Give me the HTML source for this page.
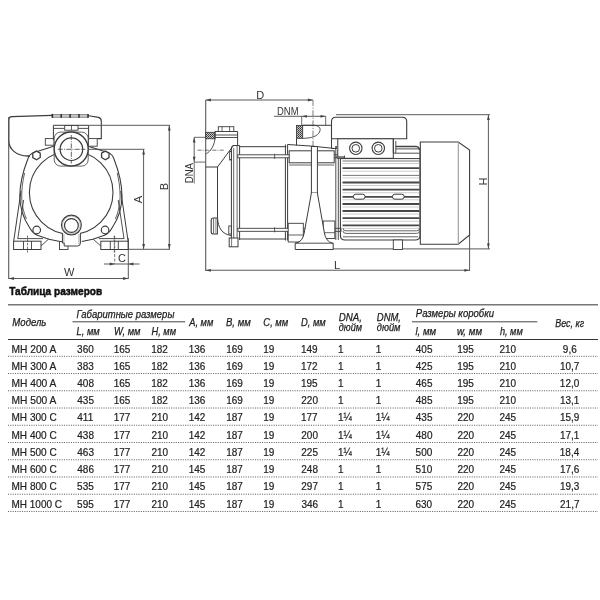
<!DOCTYPE html>
<html><head><meta charset="utf-8"><style>
html,body{margin:0;padding:0;background:#fff;}
svg{display:block;font-family:"Liberation Sans",sans-serif;filter:grayscale(1) blur(0.3px);}
</style></head><body>
<svg width="600" height="600" viewBox="0 0 600 600">
<defs><pattern id="kn" width="2" height="2" patternUnits="userSpaceOnUse"><rect width="2" height="2" fill="#c8c8c8"/><rect width="1" height="1" fill="#333"/><rect x="1" y="1" width="1" height="1" fill="#555"/></pattern></defs>
<rect width="600" height="600" fill="#fff"/>
<path d="M30,156 L28,156 C16,156 8.7,149 8.7,140 L8.7,120 Q8.7,116.8 12,116.7 L52,115.4" stroke="#3c3c3c" stroke-width="1.3" fill="none" />
<rect x="52" y="114.4" width="36.50" height="2.90" stroke="#777" stroke-width="0.7" fill="#c4c4c4" />
<line x1="52.4" y1="113.9" x2="52.4" y2="117.8" stroke="#2a2a2a" stroke-width="1.5" />
<line x1="61.2" y1="113.9" x2="61.2" y2="117.8" stroke="#2a2a2a" stroke-width="1.5" />
<line x1="70.1" y1="113.9" x2="70.1" y2="117.8" stroke="#2a2a2a" stroke-width="1.5" />
<line x1="79" y1="113.9" x2="79" y2="117.8" stroke="#2a2a2a" stroke-width="1.5" />
<line x1="88" y1="113.9" x2="88" y2="117.8" stroke="#2a2a2a" stroke-width="1.5" />
<path d="M88.7,115.7 L98.5,117.4 Q101.3,118 101.3,121.5 L101.3,138.6 L97.2,138.6" stroke="#3c3c3c" stroke-width="1.1" fill="none" />
<line x1="8.7" y1="117" x2="8.7" y2="279" stroke="#5a5a5a" stroke-width="1.1" />
<line x1="8.7" y1="278.5" x2="128.3" y2="278.5" stroke="#5a5a5a" stroke-width="1" />
<path d="M8.90,278.50 L13.90,277.10 L13.90,279.90 Z" fill="#444"/>
<path d="M128.10,278.50 L123.10,279.90 L123.10,277.10 Z" fill="#444"/>
<line x1="128.3" y1="238" x2="128.3" y2="279" stroke="#5a5a5a" stroke-width="1" />
<line x1="104" y1="264" x2="139.5" y2="264" stroke="#5a5a5a" stroke-width="1" />
<path d="M114.70,264.00 L109.70,265.40 L109.70,262.60 Z" fill="#444"/>
<path d="M128.30,264.00 L133.30,262.60 L133.30,265.40 Z" fill="#444"/>
<line x1="114.7" y1="236" x2="114.7" y2="264" stroke="#5a5a5a" stroke-width="0.8" stroke-dasharray="3,1.5"/>
<line x1="88.6" y1="125.3" x2="170" y2="125.3" stroke="#5a5a5a" stroke-width="1" />
<line x1="88.6" y1="149.3" x2="144.5" y2="149.3" stroke="#5a5a5a" stroke-width="1" />
<line x1="128.3" y1="249.3" x2="170" y2="249.3" stroke="#5a5a5a" stroke-width="1" />
<line x1="143.6" y1="149.3" x2="143.6" y2="249.3" stroke="#5a5a5a" stroke-width="1" />
<path d="M143.60,149.50 L145.00,154.50 L142.20,154.50 Z" fill="#444"/>
<path d="M143.60,249.10 L142.20,244.10 L145.00,244.10 Z" fill="#444"/>
<line x1="169.3" y1="125.3" x2="169.3" y2="249.3" stroke="#5a5a5a" stroke-width="1.1" />
<path d="M169.30,125.50 L170.70,130.50 L167.90,130.50 Z" fill="#444"/>
<path d="M169.30,249.10 L167.90,244.10 L170.70,244.10 Z" fill="#444"/>
<g><path d="M56,145.5 L34,152.5 Q29.5,154 28,158.5 C23.5,170 19.8,182 19.8,196 C19.8,210 24.5,220 29.5,227.5 Q33,234 38,235.5 L49,239.3 L60,241.5" stroke="#3c3c3c" stroke-width="1.1" fill="none"/><path d="M24.6,173 C22.6,181 21.7,189 21.7,197 C21.9,206 23.8,213 26.5,219" stroke="#3c3c3c" stroke-width="0.8" fill="none"/><line x1="21" y1="191" x2="13.7" y2="241.2" stroke="#3c3c3c" stroke-width="1" /><line x1="23.6" y1="200" x2="17.8" y2="238.6" stroke="#3c3c3c" stroke-width="0.9" /><rect x="13.6" y="241.2" width="27.40" height="8.30" stroke="#3c3c3c" stroke-width="1" fill="none"/><line x1="17.6" y1="238.6" x2="43" y2="238.6" stroke="#3c3c3c" stroke-width="0.9" /><line x1="41" y1="246" x2="48.7" y2="239" stroke="#3c3c3c" stroke-width="0.9" /><line x1="23.5" y1="241.2" x2="23.5" y2="249.5" stroke="#3c3c3c" stroke-width="0.9" /><line x1="31.5" y1="241.2" x2="31.5" y2="249.5" stroke="#3c3c3c" stroke-width="0.9" /><line x1="27.5" y1="235.5" x2="27.5" y2="252.5" stroke="#3c3c3c" stroke-width="0.7" stroke-dasharray="2.5,1.2"/><polygon points="40.22,157.55 36.50,159.70 32.78,157.55 32.78,153.25 36.50,151.10 40.22,153.25" stroke="#3c3c3c" stroke-width="1.3" fill="#fff"/><circle cx="36.7" cy="230" r="3.8" stroke="#3c3c3c" stroke-width="1.2" fill="#fff"/></g>
<g transform="translate(141.8,0) scale(-1,1)"><path d="M56,145.5 L34,152.5 Q29.5,154 28,158.5 C23.5,170 19.8,182 19.8,196 C19.8,210 24.5,220 29.5,227.5 Q33,234 38,235.5 L49,239.3 L60,241.5" stroke="#3c3c3c" stroke-width="1.1" fill="none"/><path d="M24.6,173 C22.6,181 21.7,189 21.7,197 C21.9,206 23.8,213 26.5,219" stroke="#3c3c3c" stroke-width="0.8" fill="none"/><line x1="21" y1="191" x2="13.7" y2="241.2" stroke="#3c3c3c" stroke-width="1" /><line x1="23.6" y1="200" x2="17.8" y2="238.6" stroke="#3c3c3c" stroke-width="0.9" /><rect x="13.6" y="241.2" width="27.40" height="8.30" stroke="#3c3c3c" stroke-width="1" fill="none"/><line x1="17.6" y1="238.6" x2="43" y2="238.6" stroke="#3c3c3c" stroke-width="0.9" /><line x1="41" y1="246" x2="48.7" y2="239" stroke="#3c3c3c" stroke-width="0.9" /><line x1="23.5" y1="241.2" x2="23.5" y2="249.5" stroke="#3c3c3c" stroke-width="0.9" /><line x1="31.5" y1="241.2" x2="31.5" y2="249.5" stroke="#3c3c3c" stroke-width="0.9" /><line x1="27.5" y1="235.5" x2="27.5" y2="252.5" stroke="#3c3c3c" stroke-width="0.7" stroke-dasharray="2.5,1.2"/><polygon points="40.22,157.55 36.50,159.70 32.78,157.55 32.78,153.25 36.50,151.10 40.22,153.25" stroke="#3c3c3c" stroke-width="1.3" fill="#fff"/><circle cx="36.7" cy="230" r="3.8" stroke="#3c3c3c" stroke-width="1.2" fill="#fff"/></g>
<circle cx="71.2" cy="192.5" r="41.8" stroke="#3c3c3c" stroke-width="1.1" fill="none"/>
<rect x="45.3" y="138.6" width="8.70" height="6.60" stroke="#3c3c3c" stroke-width="0.9" fill="#fff" />
<rect x="88.4" y="138.6" width="8.80" height="7.60" stroke="#3c3c3c" stroke-width="0.9" fill="#fff" />
<path d="M53.4,140 L53.4,125.3 L88.6,125.3 L88.6,140" stroke="#3c3c3c" stroke-width="1" fill="#fff" />
<line x1="53.4" y1="128.4" x2="64.7" y2="128.4" stroke="#3c3c3c" stroke-width="0.9" />
<line x1="78" y1="128.4" x2="88.6" y2="128.4" stroke="#3c3c3c" stroke-width="0.9" />
<rect x="64.7" y="125.5" width="13.30" height="4.70" stroke="#3c3c3c" stroke-width="0.9" fill="#fff" />
<line x1="71.5" y1="125.5" x2="71.5" y2="130.2" stroke="#3c3c3c" stroke-width="0.8" />
<rect x="54.2" y="132.1" width="34" height="34" rx="6.4" fill="#fff" stroke="#3c3c3c" stroke-width="0.8"/>
<circle cx="71.2" cy="149" r="17" stroke="#3c3c3c" stroke-width="1.4" fill="#fff"/>
<circle cx="71.4" cy="149.2" r="11.3" stroke="#3c3c3c" stroke-width="1.2" fill="#fff"/>
<line x1="57.8" y1="149.3" x2="85.4" y2="149.3" stroke="#3c3c3c" stroke-width="0.8" stroke-dasharray="5,1.2,1,1.2"/>
<line x1="71.3" y1="135" x2="71.3" y2="163.5" stroke="#3c3c3c" stroke-width="0.8" stroke-dasharray="5,1.2,1,1.2"/>
<rect x="59.5" y="241.5" width="8.50" height="8.00" stroke="#3c3c3c" stroke-width="0.9" fill="#fff" />
<path d="M62.4,233 L62.4,243 L64.2,243 L64.2,246 L77.6,246 Q80.4,246 80.4,243 L80.4,233" stroke="#3c3c3c" stroke-width="1" fill="#fff" />
<line x1="63.9" y1="234" x2="63.9" y2="243" stroke="#888" stroke-width="0.7" />
<line x1="78.9" y1="234" x2="78.9" y2="244" stroke="#888" stroke-width="0.7" />
<circle cx="71.4" cy="225" r="9.9" stroke="#3c3c3c" stroke-width="1.2" fill="#fff"/>
<circle cx="71.4" cy="225" r="8.9" stroke="#888" stroke-width="0.6" fill="none"/>
<circle cx="71.4" cy="225.5" r="6.9" stroke="#3c3c3c" stroke-width="1.2" fill="#fff"/>
<text x="0" y="0" font-size="11" fill="#333" font-weight="normal" font-style="normal" text-anchor="start" transform="translate(63.9,276.3)">W</text>
<text x="0" y="0" font-size="11" fill="#333" font-weight="normal" font-style="normal" text-anchor="start" transform="translate(117.9,262.3)">C</text>
<text x="0" y="0" font-size="11.2" fill="#333" font-weight="normal" font-style="normal" text-anchor="start" transform="translate(142,203.2) rotate(-90)">A</text>
<text x="0" y="0" font-size="11.2" fill="#333" font-weight="normal" font-style="normal" text-anchor="start" transform="translate(168,190.3) rotate(-90)">B</text>
<line x1="205.7" y1="100" x2="205.7" y2="271" stroke="#5a5a5a" stroke-width="1.1" />
<line x1="205.7" y1="100" x2="313" y2="100" stroke="#5a5a5a" stroke-width="1" />
<path d="M205.90,100.00 L210.90,98.60 L210.90,101.40 Z" fill="#444"/>
<path d="M312.80,100.00 L307.80,101.40 L307.80,98.60 Z" fill="#444"/>
<line x1="313" y1="100" x2="313" y2="146" stroke="#5a5a5a" stroke-width="0.8" stroke-dasharray="6,1.5,1.2,1.5"/>
<line x1="274" y1="116.3" x2="325.7" y2="116.3" stroke="#5a5a5a" stroke-width="1" />
<path d="M301.90,116.30 L306.90,114.90 L306.90,117.70 Z" fill="#444"/>
<path d="M325.50,116.30 L320.50,117.70 L320.50,114.90 Z" fill="#444"/>
<line x1="301.7" y1="116.3" x2="301.7" y2="125.3" stroke="#5a5a5a" stroke-width="0.9" />
<line x1="325.7" y1="116.3" x2="325.7" y2="125.3" stroke="#5a5a5a" stroke-width="0.9" />
<line x1="194" y1="137.3" x2="205.7" y2="137.3" stroke="#5a5a5a" stroke-width="0.9" />
<line x1="194" y1="162.1" x2="205.7" y2="162.1" stroke="#5a5a5a" stroke-width="0.9" />
<line x1="194.2" y1="162" x2="194.2" y2="183.5" stroke="#5a5a5a" stroke-width="0.9" />
<line x1="194.2" y1="137.3" x2="194.2" y2="162.1" stroke="#5a5a5a" stroke-width="1" />
<path d="M194.20,137.60 L195.60,142.60 L192.80,142.60 Z" fill="#444"/>
<path d="M194.20,161.80 L192.80,156.80 L195.60,156.80 Z" fill="#444"/>
<line x1="205.7" y1="270.3" x2="469.6" y2="270.3" stroke="#5a5a5a" stroke-width="1.1" />
<path d="M205.90,270.30 L210.90,268.90 L210.90,271.70 Z" fill="#444"/>
<path d="M469.40,270.30 L464.40,271.70 L464.40,268.90 Z" fill="#444"/>
<line x1="469.6" y1="235" x2="469.6" y2="271" stroke="#5a5a5a" stroke-width="1" />
<line x1="336" y1="114.7" x2="490" y2="114.7" stroke="#5a5a5a" stroke-width="1" />
<line x1="333" y1="248.9" x2="490" y2="248.9" stroke="#5a5a5a" stroke-width="1" />
<line x1="488.4" y1="114.7" x2="488.4" y2="248.8" stroke="#5a5a5a" stroke-width="1" />
<path d="M488.40,114.90 L489.80,119.90 L487.00,119.90 Z" fill="#444"/>
<path d="M488.40,248.60 L487.00,243.60 L489.80,243.60 Z" fill="#444"/>
<text x="0" y="0" font-size="11" fill="#333" font-weight="normal" font-style="normal" text-anchor="start" transform="translate(256.3,98.8)">D</text>
<text x="0" y="0" font-size="11" fill="#333" font-weight="normal" font-style="normal" text-anchor="start" textLength="21.5" lengthAdjust="spacingAndGlyphs" transform="translate(277,115.2)">DNM</text>
<text x="0" y="0" font-size="11" fill="#333" font-weight="normal" font-style="normal" text-anchor="start" textLength="20.3" lengthAdjust="spacingAndGlyphs" transform="translate(193.4,183.3) rotate(-90)">DNA</text>
<text x="0" y="0" font-size="11" fill="#333" font-weight="normal" font-style="normal" text-anchor="start" transform="translate(334,268.8)">L</text>
<text x="0" y="0" font-size="11" fill="#333" font-weight="normal" font-style="normal" text-anchor="start" transform="translate(487.2,185.6) rotate(-90)">H</text>
<rect x="205.7" y="132.3" width="9.30" height="6.50" stroke="#333" stroke-width="0.8" fill="url(#kn)" />
<path d="M215,138.8 L215,131.5 L237.6,131.5 L237.6,145.8" stroke="#3c3c3c" stroke-width="1" fill="none" />
<line x1="215" y1="135" x2="237.6" y2="135" stroke="#3c3c3c" stroke-width="0.9" />
<line x1="215" y1="137.5" x2="237.6" y2="137.5" stroke="#3c3c3c" stroke-width="0.9" />
<rect x="218.3" y="126.7" width="15.50" height="4.80" stroke="#3c3c3c" stroke-width="0.9" fill="#fff" />
<line x1="222" y1="126.7" x2="222" y2="131.5" stroke="#3c3c3c" stroke-width="0.8" />
<line x1="229.6" y1="126.7" x2="229.6" y2="131.5" stroke="#3c3c3c" stroke-width="0.8" />
<path d="M215,138.8 C214,146 211,151 206.2,153.8" stroke="#3c3c3c" stroke-width="0.9" fill="none" />
<line x1="197.5" y1="150.2" x2="224" y2="150.2" stroke="#3c3c3c" stroke-width="0.7" stroke-dasharray="4,1.2,1,1.2"/>
<path d="M233.8,145 L217.5,167 L205.7,167" stroke="#3c3c3c" stroke-width="1" fill="none" />
<line x1="217.5" y1="167" x2="217.5" y2="217.5" stroke="#3c3c3c" stroke-width="1" />
<path d="M217.5,217.5 C218,228 222,234 231,235.5" stroke="#3c3c3c" stroke-width="1" fill="none" />
<path d="M217.3,218 L213,218 Q211.2,218 211.2,220 L211.2,232 Q211.2,234 213,234 L217.3,234 Z" stroke="#333" stroke-width="1.1" fill="#fff" />
<line x1="213.6" y1="218.5" x2="213.6" y2="233.5" stroke="#3c3c3c" stroke-width="0.8" />
<line x1="215.6" y1="218.5" x2="215.6" y2="233.5" stroke="#777" stroke-width="0.6" />
<path d="M231.4,240 L231.4,148 Q231.4,145.5 234,145.5 L239.6,145.5 L239.6,240" stroke="#3c3c3c" stroke-width="1" fill="none" />
<line x1="233.7" y1="148" x2="233.7" y2="240" stroke="#3c3c3c" stroke-width="0.8" />
<line x1="237.1" y1="146" x2="237.1" y2="240" stroke="#3c3c3c" stroke-width="0.8" />
<rect x="229.2" y="238" width="8.80" height="8.80" stroke="#3c3c3c" stroke-width="1" fill="#fff" />
<line x1="231.6" y1="238" x2="231.6" y2="246.8" stroke="#3c3c3c" stroke-width="0.7" />
<rect x="229.6" y="151.3" width="1.80" height="8.70" stroke="#3c3c3c" stroke-width="0.8" fill="none" />
<rect x="228.8" y="226" width="2.60" height="8.00" stroke="#3c3c3c" stroke-width="0.9" fill="none" />
<line x1="239.6" y1="146.7" x2="286.3" y2="146.7" stroke="#3c3c3c" stroke-width="1" />
<line x1="239.6" y1="239" x2="286.3" y2="239" stroke="#3c3c3c" stroke-width="1" />
<line x1="285.4" y1="144.5" x2="285.4" y2="240.5" stroke="#3c3c3c" stroke-width="1" />
<line x1="287.6" y1="144.5" x2="287.6" y2="240.5" stroke="#3c3c3c" stroke-width="1" />
<rect x="237.8" y="154.8" width="103.20" height="3.00" stroke="#3c3c3c" stroke-width="0.9" fill="#fff" />
<line x1="274.6" y1="153.8" x2="274.6" y2="158.8" stroke="#3c3c3c" stroke-width="0.8" />
<rect x="237.8" y="228.3" width="103.20" height="3.00" stroke="#3c3c3c" stroke-width="0.9" fill="#fff" />
<line x1="274.6" y1="227.3" x2="274.6" y2="232.3" stroke="#3c3c3c" stroke-width="0.8" />
<path d="M287.6,144.5 L313,146.2 L336.3,148.7" stroke="#3c3c3c" stroke-width="1" fill="none" />
<rect x="289.2" y="150.8" width="45.00" height="12.00" stroke="#3c3c3c" stroke-width="1" fill="#fff" />
<line x1="289.2" y1="165" x2="334.2" y2="165" stroke="#3c3c3c" stroke-width="0.8" />
<rect x="288.2" y="223.3" width="15.10" height="18.70" stroke="#3c3c3c" stroke-width="0.9" fill="#fff" />
<line x1="288.2" y1="235" x2="303.3" y2="235" stroke="#3c3c3c" stroke-width="0.8" />
<rect x="323.2" y="221" width="11.60" height="17.50" stroke="#3c3c3c" stroke-width="0.9" fill="#fff" />
<line x1="323.2" y1="232.7" x2="334.8" y2="232.7" stroke="#3c3c3c" stroke-width="0.8" />
<rect x="296.5" y="125.5" width="6.20" height="12.80" stroke="#333" stroke-width="0.8" fill="url(#kn)" />
<path d="M296.5,138.3 L296.5,145.5" stroke="#3c3c3c" stroke-width="1" fill="none" />
<line x1="302.7" y1="125.3" x2="331.5" y2="125.3" stroke="#3c3c3c" stroke-width="1" />
<path d="M302.7,125.3 L314,125.3 C320,125.6 321,129 319.5,132 C317.5,136 312,138.3 302.7,138.3" stroke="#3c3c3c" stroke-width="0.9" fill="none" />
<rect x="311.4" y="146.5" width="6.00" height="46.50" stroke="#3c3c3c" stroke-width="1" fill="#fff" />
<path d="M311.4,193 L304.2,233 Q302.8,241.5 296,243.2 L295.2,243.2 L295.2,249.5 L333.2,249.5 L333.2,243.2 L332.5,243.2 Q325.8,241.5 324.4,233 L317.4,193" stroke="#3c3c3c" stroke-width="1" fill="#fff" />
<line x1="295.2" y1="243.2" x2="333.2" y2="243.2" stroke="#3c3c3c" stroke-width="0.9" />
<line x1="335.8" y1="146" x2="335.8" y2="240" stroke="#3c3c3c" stroke-width="0.9" />
<line x1="338.3" y1="146" x2="338.3" y2="240" stroke="#3c3c3c" stroke-width="0.9" />
<line x1="336.3" y1="146" x2="336.3" y2="148.7" stroke="#3c3c3c" stroke-width="1" />
<path d="M331.5,138.8 L331.5,121.5 Q331.5,117.2 335.8,117.2 L402.4,117.2 Q406.7,117.2 406.7,121.5 L406.7,138.8 Z" stroke="#3c3c3c" stroke-width="1.1" fill="#fff" />
<rect x="337.8" y="138.8" width="55.50" height="19.50" stroke="#3c3c3c" stroke-width="1" fill="#fff" />
<line x1="331.5" y1="138.8" x2="331.5" y2="148.5" stroke="#3c3c3c" stroke-width="1" />
<line x1="331.5" y1="148.5" x2="336.3" y2="148.5" stroke="#3c3c3c" stroke-width="0.9" />
<line x1="393.3" y1="138.8" x2="393.3" y2="153.2" stroke="#3c3c3c" stroke-width="1" />
<line x1="395.8" y1="141" x2="395.8" y2="153.2" stroke="#3c3c3c" stroke-width="0.9" />
<circle cx="355.8" cy="148.3" r="6.2" stroke="#3c3c3c" stroke-width="1.1" fill="#fff"/>
<circle cx="355.8" cy="148.3" r="3.8" stroke="#3c3c3c" stroke-width="1.0" fill="none"/>
<circle cx="378.3" cy="148.3" r="6.2" stroke="#3c3c3c" stroke-width="1.1" fill="#fff"/>
<circle cx="378.3" cy="148.3" r="3.8" stroke="#3c3c3c" stroke-width="1.0" fill="none"/>
<path d="M395.8,146.5 L416,146.5 Q419.5,146.8 419.5,150.5" stroke="#444" stroke-width="1.3" fill="none" />
<line x1="395.8" y1="148.9" x2="419.5" y2="148.9" stroke="#3c3c3c" stroke-width="0.9" />
<line x1="393.3" y1="153.2" x2="419.5" y2="153.2" stroke="#3c3c3c" stroke-width="0.9" />
<line x1="335.8" y1="157" x2="345" y2="157" stroke="#555" stroke-width="1.4" />
<line x1="344.5" y1="155.5" x2="344.5" y2="159" stroke="#3c3c3c" stroke-width="0.8" />
<line x1="340.4" y1="158.6" x2="420" y2="158.6" stroke="#3c3c3c" stroke-width="1" />
<path d="M340.4,158.6 L340.4,235.5 Q340.4,240 345,240 L415,240 Q420,240 420,235.5 L420,151" stroke="#3c3c3c" stroke-width="1.1" fill="none" />
<line x1="342.5" y1="161.0" x2="419.5" y2="161.0" stroke="#777" stroke-width="1.0" />
<line x1="342.5" y1="163.5" x2="419.5" y2="163.5" stroke="#aaa" stroke-width="0.6" />
<line x1="342.5" y1="168.2" x2="419.5" y2="168.2" stroke="#484848" stroke-width="1.8" />
<line x1="342.5" y1="171.2" x2="419.5" y2="171.2" stroke="#aaa" stroke-width="0.6" />
<line x1="342.5" y1="175.4" x2="419.5" y2="175.4" stroke="#777" stroke-width="1.0" />
<line x1="342.5" y1="177.9" x2="419.5" y2="177.9" stroke="#aaa" stroke-width="0.6" />
<line x1="342.5" y1="182.5" x2="419.5" y2="182.5" stroke="#484848" stroke-width="1.8" />
<line x1="342.5" y1="185.5" x2="419.5" y2="185.5" stroke="#aaa" stroke-width="0.6" />
<line x1="342.5" y1="189.7" x2="419.5" y2="189.7" stroke="#484848" stroke-width="1.8" />
<line x1="342.5" y1="192.7" x2="419.5" y2="192.7" stroke="#aaa" stroke-width="0.6" />
<line x1="342.5" y1="196.8" x2="419.5" y2="196.8" stroke="#484848" stroke-width="1.8" />
<line x1="342.5" y1="199.8" x2="419.5" y2="199.8" stroke="#aaa" stroke-width="0.6" />
<line x1="342.5" y1="204.0" x2="419.5" y2="204.0" stroke="#484848" stroke-width="1.8" />
<line x1="342.5" y1="207.0" x2="419.5" y2="207.0" stroke="#aaa" stroke-width="0.6" />
<line x1="342.5" y1="211.0" x2="419.5" y2="211.0" stroke="#484848" stroke-width="1.8" />
<line x1="342.5" y1="214.0" x2="419.5" y2="214.0" stroke="#aaa" stroke-width="0.6" />
<line x1="342.5" y1="218.2" x2="419.5" y2="218.2" stroke="#484848" stroke-width="1.8" />
<line x1="342.5" y1="221.2" x2="419.5" y2="221.2" stroke="#aaa" stroke-width="0.6" />
<line x1="342.5" y1="225.4" x2="419.5" y2="225.4" stroke="#484848" stroke-width="1.8" />
<line x1="342.5" y1="228.4" x2="419.5" y2="228.4" stroke="#aaa" stroke-width="0.6" />
<path d="M343,228.3 Q343,230.8 346,230.8 L416.5,230.8 Q419.5,230.8 419.5,228.3" stroke="#555" stroke-width="0.9" fill="none" />
<path d="M343,230.9 Q343,233.4 346,233.4 L416.5,233.4 Q419.5,233.4 419.5,230.9" stroke="#555" stroke-width="0.9" fill="none" />
<line x1="343" y1="236.8" x2="418" y2="236.8" stroke="#3c3c3c" stroke-width="0.8" />
<rect x="353.3" y="194.2" width="11.8" height="5" rx="2.5" fill="#fff" stroke="#3c3c3c" stroke-width="1"/>
<rect x="392.40000000000003" y="194.2" width="11.8" height="5" rx="2.5" fill="#fff" stroke="#3c3c3c" stroke-width="1"/>
<rect x="393.3" y="240" width="9.20" height="9.50" stroke="#3c3c3c" stroke-width="0.9" fill="#fff" />
<path d="M420.3,244.2 L420.3,142 L458.3,142 L469.6,150 L469.6,235 L458.3,244.2 Z" stroke="#3c3c3c" stroke-width="1.1" fill="#fff" />
<line x1="458.3" y1="142" x2="458.3" y2="244.2" stroke="#999" stroke-width="1.1" />
<text x="9.20" y="294.60" font-size="11.2" fill="#111" font-weight="bold" font-style="normal" textLength="92.99" lengthAdjust="spacingAndGlyphs" stroke="#111" stroke-width="0.5">Таблица размеров</text>
<line x1="8" y1="304.8" x2="598" y2="304.8" stroke="#777" stroke-width="1.4" />
<line x1="8" y1="339.5" x2="598" y2="339.5" stroke="#333" stroke-width="1.2" />
<line x1="72.5" y1="321.8" x2="185.3" y2="321.8" stroke="#444" stroke-width="1" />
<line x1="412" y1="321.8" x2="537.3" y2="321.8" stroke="#444" stroke-width="1" />
<text x="12.31" y="326.20" font-size="10.2" fill="#1e1e1e" font-weight="normal" font-style="italic" textLength="34.11" lengthAdjust="spacingAndGlyphs" stroke="#1e1e1e" stroke-width="0.25">Модель</text>
<text x="76.52" y="317.80" font-size="10.2" fill="#1e1e1e" font-weight="normal" font-style="italic" textLength="97.85" lengthAdjust="spacingAndGlyphs" stroke="#1e1e1e" stroke-width="0.25">Габаритные размеры</text>
<text x="76.52" y="334.60" font-size="10.2" fill="#1e1e1e" font-weight="normal" font-style="italic" textLength="23.20" lengthAdjust="spacingAndGlyphs" stroke="#1e1e1e" stroke-width="0.25">L, мм</text>
<text x="114.06" y="334.60" font-size="10.2" fill="#1e1e1e" font-weight="normal" font-style="italic" textLength="26.47" lengthAdjust="spacingAndGlyphs" stroke="#1e1e1e" stroke-width="0.25">W, мм</text>
<text x="151.52" y="334.60" font-size="10.2" fill="#1e1e1e" font-weight="normal" font-style="italic" textLength="24.55" lengthAdjust="spacingAndGlyphs" stroke="#1e1e1e" stroke-width="0.25">H, мм</text>
<text x="189.26" y="326.30" font-size="10.2" fill="#1e1e1e" font-weight="normal" font-style="italic" textLength="23.97" lengthAdjust="spacingAndGlyphs" stroke="#1e1e1e" stroke-width="0.25">A, мм</text>
<text x="226.01" y="326.30" font-size="10.2" fill="#1e1e1e" font-weight="normal" font-style="italic" textLength="24.72" lengthAdjust="spacingAndGlyphs" stroke="#1e1e1e" stroke-width="0.25">B, мм</text>
<text x="263.33" y="326.30" font-size="10.2" fill="#1e1e1e" font-weight="normal" font-style="italic" textLength="24.95" lengthAdjust="spacingAndGlyphs" stroke="#1e1e1e" stroke-width="0.25">C, мм</text>
<text x="301.02" y="326.30" font-size="10.2" fill="#1e1e1e" font-weight="normal" font-style="italic" textLength="24.76" lengthAdjust="spacingAndGlyphs" stroke="#1e1e1e" stroke-width="0.25">D, мм</text>
<text x="338.81" y="321.00" font-size="10.2" fill="#1e1e1e" font-weight="normal" font-style="italic" textLength="23.25" lengthAdjust="spacingAndGlyphs" stroke="#1e1e1e" stroke-width="0.25">DNA,</text>
<text x="338.83" y="331.00" font-size="10.2" fill="#1e1e1e" font-weight="normal" font-style="italic" textLength="23.22" lengthAdjust="spacingAndGlyphs" stroke="#1e1e1e" stroke-width="0.25">дюйм</text>
<text x="376.82" y="321.00" font-size="10.2" fill="#1e1e1e" font-weight="normal" font-style="italic" textLength="24.17" lengthAdjust="spacingAndGlyphs" stroke="#1e1e1e" stroke-width="0.25">DNM,</text>
<text x="376.82" y="331.00" font-size="10.2" fill="#1e1e1e" font-weight="normal" font-style="italic" textLength="23.63" lengthAdjust="spacingAndGlyphs" stroke="#1e1e1e" stroke-width="0.25">дюйм</text>
<text x="415.81" y="317.30" font-size="10.2" fill="#1e1e1e" font-weight="normal" font-style="italic" textLength="78.15" lengthAdjust="spacingAndGlyphs" stroke="#1e1e1e" stroke-width="0.25">Размеры коробки</text>
<text x="415.41" y="334.60" font-size="10.2" fill="#1e1e1e" font-weight="normal" font-style="italic" textLength="20.68" lengthAdjust="spacingAndGlyphs" stroke="#1e1e1e" stroke-width="0.25">l, мм</text>
<text x="456.92" y="334.60" font-size="10.2" fill="#1e1e1e" font-weight="normal" font-style="italic" textLength="25.12" lengthAdjust="spacingAndGlyphs" stroke="#1e1e1e" stroke-width="0.25">w, мм</text>
<text x="499.92" y="334.60" font-size="10.2" fill="#1e1e1e" font-weight="normal" font-style="italic" textLength="22.80" lengthAdjust="spacingAndGlyphs" stroke="#1e1e1e" stroke-width="0.25">h, мм</text>
<text x="555.33" y="326.50" font-size="10.2" fill="#1e1e1e" font-weight="normal" font-style="italic" textLength="28.77" lengthAdjust="spacingAndGlyphs" stroke="#1e1e1e" stroke-width="0.25">Вес, кг</text>
<line x1="8" y1="356.30" x2="598" y2="356.30" stroke="#666" stroke-width="1" stroke-dasharray="1.1,1.23"/>
<text x="11.48" y="352.60" font-size="10.4" fill="#222" font-weight="normal" font-style="normal" textLength="44.93" lengthAdjust="spacingAndGlyphs" stroke="#222" stroke-width="0.2">MH 200 A</text>
<text x="77.10" y="352.60" font-size="10.4" fill="#222" font-weight="normal" font-style="normal" textLength="16.66" lengthAdjust="spacingAndGlyphs" stroke="#222" stroke-width="0.2">360</text>
<text x="113.70" y="352.60" font-size="10.4" fill="#222" font-weight="normal" font-style="normal" textLength="16.66" lengthAdjust="spacingAndGlyphs" stroke="#222" stroke-width="0.2">165</text>
<text x="151.20" y="352.60" font-size="10.4" fill="#222" font-weight="normal" font-style="normal" textLength="16.66" lengthAdjust="spacingAndGlyphs" stroke="#222" stroke-width="0.2">182</text>
<text x="188.70" y="352.60" font-size="10.4" fill="#222" font-weight="normal" font-style="normal" textLength="16.66" lengthAdjust="spacingAndGlyphs" stroke="#222" stroke-width="0.2">136</text>
<text x="226.20" y="352.60" font-size="10.4" fill="#222" font-weight="normal" font-style="normal" textLength="16.66" lengthAdjust="spacingAndGlyphs" stroke="#222" stroke-width="0.2">169</text>
<text x="263.20" y="352.60" font-size="10.4" fill="#222" font-weight="normal" font-style="normal" textLength="11.10" lengthAdjust="spacingAndGlyphs" stroke="#222" stroke-width="0.2">19</text>
<text x="301.00" y="352.60" font-size="10.4" fill="#222" font-weight="normal" font-style="normal" textLength="16.66" lengthAdjust="spacingAndGlyphs" stroke="#222" stroke-width="0.2">149</text>
<text x="338.00" y="352.60" font-size="10.4" fill="#222" font-weight="normal" font-style="normal" textLength="5.55" lengthAdjust="spacingAndGlyphs" stroke="#222" stroke-width="0.2">1</text>
<text x="375.70" y="352.60" font-size="10.4" fill="#222" font-weight="normal" font-style="normal" textLength="5.55" lengthAdjust="spacingAndGlyphs" stroke="#222" stroke-width="0.2">1</text>
<text x="415.80" y="352.60" font-size="10.4" fill="#222" font-weight="normal" font-style="normal" textLength="16.66" lengthAdjust="spacingAndGlyphs" stroke="#222" stroke-width="0.2">405</text>
<text x="457.20" y="352.60" font-size="10.4" fill="#222" font-weight="normal" font-style="normal" textLength="16.66" lengthAdjust="spacingAndGlyphs" stroke="#222" stroke-width="0.2">195</text>
<text x="499.50" y="352.60" font-size="10.4" fill="#222" font-weight="normal" font-style="normal" textLength="16.66" lengthAdjust="spacingAndGlyphs" stroke="#222" stroke-width="0.2">210</text>
<text x="562.86" y="352.60" font-size="10.4" fill="#222" font-weight="normal" font-style="normal" textLength="13.88" lengthAdjust="spacingAndGlyphs" stroke="#222" stroke-width="0.2">9,6</text>
<line x1="8" y1="373.54" x2="598" y2="373.54" stroke="#666" stroke-width="1" stroke-dasharray="1.1,1.23"/>
<text x="11.48" y="369.82" font-size="10.4" fill="#222" font-weight="normal" font-style="normal" textLength="44.93" lengthAdjust="spacingAndGlyphs" stroke="#222" stroke-width="0.2">MH 300 A</text>
<text x="77.10" y="369.82" font-size="10.4" fill="#222" font-weight="normal" font-style="normal" textLength="16.66" lengthAdjust="spacingAndGlyphs" stroke="#222" stroke-width="0.2">383</text>
<text x="113.70" y="369.82" font-size="10.4" fill="#222" font-weight="normal" font-style="normal" textLength="16.66" lengthAdjust="spacingAndGlyphs" stroke="#222" stroke-width="0.2">165</text>
<text x="151.20" y="369.82" font-size="10.4" fill="#222" font-weight="normal" font-style="normal" textLength="16.66" lengthAdjust="spacingAndGlyphs" stroke="#222" stroke-width="0.2">182</text>
<text x="188.70" y="369.82" font-size="10.4" fill="#222" font-weight="normal" font-style="normal" textLength="16.66" lengthAdjust="spacingAndGlyphs" stroke="#222" stroke-width="0.2">136</text>
<text x="226.20" y="369.82" font-size="10.4" fill="#222" font-weight="normal" font-style="normal" textLength="16.66" lengthAdjust="spacingAndGlyphs" stroke="#222" stroke-width="0.2">169</text>
<text x="263.20" y="369.82" font-size="10.4" fill="#222" font-weight="normal" font-style="normal" textLength="11.10" lengthAdjust="spacingAndGlyphs" stroke="#222" stroke-width="0.2">19</text>
<text x="301.00" y="369.82" font-size="10.4" fill="#222" font-weight="normal" font-style="normal" textLength="16.66" lengthAdjust="spacingAndGlyphs" stroke="#222" stroke-width="0.2">172</text>
<text x="338.00" y="369.82" font-size="10.4" fill="#222" font-weight="normal" font-style="normal" textLength="5.55" lengthAdjust="spacingAndGlyphs" stroke="#222" stroke-width="0.2">1</text>
<text x="375.70" y="369.82" font-size="10.4" fill="#222" font-weight="normal" font-style="normal" textLength="5.55" lengthAdjust="spacingAndGlyphs" stroke="#222" stroke-width="0.2">1</text>
<text x="415.80" y="369.82" font-size="10.4" fill="#222" font-weight="normal" font-style="normal" textLength="16.66" lengthAdjust="spacingAndGlyphs" stroke="#222" stroke-width="0.2">425</text>
<text x="457.20" y="369.82" font-size="10.4" fill="#222" font-weight="normal" font-style="normal" textLength="16.66" lengthAdjust="spacingAndGlyphs" stroke="#222" stroke-width="0.2">195</text>
<text x="499.50" y="369.82" font-size="10.4" fill="#222" font-weight="normal" font-style="normal" textLength="16.66" lengthAdjust="spacingAndGlyphs" stroke="#222" stroke-width="0.2">210</text>
<text x="559.92" y="369.82" font-size="10.4" fill="#222" font-weight="normal" font-style="normal" textLength="19.43" lengthAdjust="spacingAndGlyphs" stroke="#222" stroke-width="0.2">10,7</text>
<line x1="8" y1="390.78" x2="598" y2="390.78" stroke="#666" stroke-width="1" stroke-dasharray="1.1,1.23"/>
<text x="11.48" y="387.04" font-size="10.4" fill="#222" font-weight="normal" font-style="normal" textLength="44.93" lengthAdjust="spacingAndGlyphs" stroke="#222" stroke-width="0.2">MH 400 A</text>
<text x="77.30" y="387.04" font-size="10.4" fill="#222" font-weight="normal" font-style="normal" textLength="16.66" lengthAdjust="spacingAndGlyphs" stroke="#222" stroke-width="0.2">408</text>
<text x="113.70" y="387.04" font-size="10.4" fill="#222" font-weight="normal" font-style="normal" textLength="16.66" lengthAdjust="spacingAndGlyphs" stroke="#222" stroke-width="0.2">165</text>
<text x="151.20" y="387.04" font-size="10.4" fill="#222" font-weight="normal" font-style="normal" textLength="16.66" lengthAdjust="spacingAndGlyphs" stroke="#222" stroke-width="0.2">182</text>
<text x="188.70" y="387.04" font-size="10.4" fill="#222" font-weight="normal" font-style="normal" textLength="16.66" lengthAdjust="spacingAndGlyphs" stroke="#222" stroke-width="0.2">136</text>
<text x="226.20" y="387.04" font-size="10.4" fill="#222" font-weight="normal" font-style="normal" textLength="16.66" lengthAdjust="spacingAndGlyphs" stroke="#222" stroke-width="0.2">169</text>
<text x="263.20" y="387.04" font-size="10.4" fill="#222" font-weight="normal" font-style="normal" textLength="11.10" lengthAdjust="spacingAndGlyphs" stroke="#222" stroke-width="0.2">19</text>
<text x="301.00" y="387.04" font-size="10.4" fill="#222" font-weight="normal" font-style="normal" textLength="16.66" lengthAdjust="spacingAndGlyphs" stroke="#222" stroke-width="0.2">195</text>
<text x="338.00" y="387.04" font-size="10.4" fill="#222" font-weight="normal" font-style="normal" textLength="5.55" lengthAdjust="spacingAndGlyphs" stroke="#222" stroke-width="0.2">1</text>
<text x="375.70" y="387.04" font-size="10.4" fill="#222" font-weight="normal" font-style="normal" textLength="5.55" lengthAdjust="spacingAndGlyphs" stroke="#222" stroke-width="0.2">1</text>
<text x="415.80" y="387.04" font-size="10.4" fill="#222" font-weight="normal" font-style="normal" textLength="16.66" lengthAdjust="spacingAndGlyphs" stroke="#222" stroke-width="0.2">465</text>
<text x="457.20" y="387.04" font-size="10.4" fill="#222" font-weight="normal" font-style="normal" textLength="16.66" lengthAdjust="spacingAndGlyphs" stroke="#222" stroke-width="0.2">195</text>
<text x="499.50" y="387.04" font-size="10.4" fill="#222" font-weight="normal" font-style="normal" textLength="16.66" lengthAdjust="spacingAndGlyphs" stroke="#222" stroke-width="0.2">210</text>
<text x="559.87" y="387.04" font-size="10.4" fill="#222" font-weight="normal" font-style="normal" textLength="19.43" lengthAdjust="spacingAndGlyphs" stroke="#222" stroke-width="0.2">12,0</text>
<line x1="8" y1="408.02" x2="598" y2="408.02" stroke="#666" stroke-width="1" stroke-dasharray="1.1,1.23"/>
<text x="11.48" y="404.26" font-size="10.4" fill="#222" font-weight="normal" font-style="normal" textLength="44.93" lengthAdjust="spacingAndGlyphs" stroke="#222" stroke-width="0.2">MH 500 A</text>
<text x="77.30" y="404.26" font-size="10.4" fill="#222" font-weight="normal" font-style="normal" textLength="16.66" lengthAdjust="spacingAndGlyphs" stroke="#222" stroke-width="0.2">435</text>
<text x="113.70" y="404.26" font-size="10.4" fill="#222" font-weight="normal" font-style="normal" textLength="16.66" lengthAdjust="spacingAndGlyphs" stroke="#222" stroke-width="0.2">165</text>
<text x="151.20" y="404.26" font-size="10.4" fill="#222" font-weight="normal" font-style="normal" textLength="16.66" lengthAdjust="spacingAndGlyphs" stroke="#222" stroke-width="0.2">182</text>
<text x="188.70" y="404.26" font-size="10.4" fill="#222" font-weight="normal" font-style="normal" textLength="16.66" lengthAdjust="spacingAndGlyphs" stroke="#222" stroke-width="0.2">136</text>
<text x="226.20" y="404.26" font-size="10.4" fill="#222" font-weight="normal" font-style="normal" textLength="16.66" lengthAdjust="spacingAndGlyphs" stroke="#222" stroke-width="0.2">169</text>
<text x="263.20" y="404.26" font-size="10.4" fill="#222" font-weight="normal" font-style="normal" textLength="11.10" lengthAdjust="spacingAndGlyphs" stroke="#222" stroke-width="0.2">19</text>
<text x="301.30" y="404.26" font-size="10.4" fill="#222" font-weight="normal" font-style="normal" textLength="16.66" lengthAdjust="spacingAndGlyphs" stroke="#222" stroke-width="0.2">220</text>
<text x="338.00" y="404.26" font-size="10.4" fill="#222" font-weight="normal" font-style="normal" textLength="5.55" lengthAdjust="spacingAndGlyphs" stroke="#222" stroke-width="0.2">1</text>
<text x="375.70" y="404.26" font-size="10.4" fill="#222" font-weight="normal" font-style="normal" textLength="5.55" lengthAdjust="spacingAndGlyphs" stroke="#222" stroke-width="0.2">1</text>
<text x="415.80" y="404.26" font-size="10.4" fill="#222" font-weight="normal" font-style="normal" textLength="16.66" lengthAdjust="spacingAndGlyphs" stroke="#222" stroke-width="0.2">485</text>
<text x="457.20" y="404.26" font-size="10.4" fill="#222" font-weight="normal" font-style="normal" textLength="16.66" lengthAdjust="spacingAndGlyphs" stroke="#222" stroke-width="0.2">195</text>
<text x="499.50" y="404.26" font-size="10.4" fill="#222" font-weight="normal" font-style="normal" textLength="16.66" lengthAdjust="spacingAndGlyphs" stroke="#222" stroke-width="0.2">210</text>
<text x="559.92" y="404.26" font-size="10.4" fill="#222" font-weight="normal" font-style="normal" textLength="19.43" lengthAdjust="spacingAndGlyphs" stroke="#222" stroke-width="0.2">13,1</text>
<line x1="8" y1="425.26" x2="598" y2="425.26" stroke="#666" stroke-width="1" stroke-dasharray="1.1,1.23"/>
<text x="11.50" y="421.48" font-size="10.4" fill="#222" font-weight="normal" font-style="normal" textLength="45.22" lengthAdjust="spacingAndGlyphs" stroke="#222" stroke-width="0.2">MH 300 C</text>
<text x="77.30" y="421.48" font-size="10.4" fill="#222" font-weight="normal" font-style="normal" textLength="15.92" lengthAdjust="spacingAndGlyphs" stroke="#222" stroke-width="0.2">411</text>
<text x="113.70" y="421.48" font-size="10.4" fill="#222" font-weight="normal" font-style="normal" textLength="16.66" lengthAdjust="spacingAndGlyphs" stroke="#222" stroke-width="0.2">177</text>
<text x="151.50" y="421.48" font-size="10.4" fill="#222" font-weight="normal" font-style="normal" textLength="16.66" lengthAdjust="spacingAndGlyphs" stroke="#222" stroke-width="0.2">210</text>
<text x="188.70" y="421.48" font-size="10.4" fill="#222" font-weight="normal" font-style="normal" textLength="16.66" lengthAdjust="spacingAndGlyphs" stroke="#222" stroke-width="0.2">142</text>
<text x="226.20" y="421.48" font-size="10.4" fill="#222" font-weight="normal" font-style="normal" textLength="16.66" lengthAdjust="spacingAndGlyphs" stroke="#222" stroke-width="0.2">187</text>
<text x="263.20" y="421.48" font-size="10.4" fill="#222" font-weight="normal" font-style="normal" textLength="11.10" lengthAdjust="spacingAndGlyphs" stroke="#222" stroke-width="0.2">19</text>
<text x="301.00" y="421.48" font-size="10.4" fill="#222" font-weight="normal" font-style="normal" textLength="16.66" lengthAdjust="spacingAndGlyphs" stroke="#222" stroke-width="0.2">177</text>
<text x="338.00" y="421.48" font-size="10.4" fill="#222" font-weight="normal" font-style="normal" textLength="13.88" lengthAdjust="spacingAndGlyphs" stroke="#222" stroke-width="0.2">1¼</text>
<text x="375.70" y="421.48" font-size="10.4" fill="#222" font-weight="normal" font-style="normal" textLength="13.88" lengthAdjust="spacingAndGlyphs" stroke="#222" stroke-width="0.2">1¼</text>
<text x="415.80" y="421.48" font-size="10.4" fill="#222" font-weight="normal" font-style="normal" textLength="16.66" lengthAdjust="spacingAndGlyphs" stroke="#222" stroke-width="0.2">435</text>
<text x="457.50" y="421.48" font-size="10.4" fill="#222" font-weight="normal" font-style="normal" textLength="16.66" lengthAdjust="spacingAndGlyphs" stroke="#222" stroke-width="0.2">220</text>
<text x="499.50" y="421.48" font-size="10.4" fill="#222" font-weight="normal" font-style="normal" textLength="16.66" lengthAdjust="spacingAndGlyphs" stroke="#222" stroke-width="0.2">245</text>
<text x="559.92" y="421.48" font-size="10.4" fill="#222" font-weight="normal" font-style="normal" textLength="19.43" lengthAdjust="spacingAndGlyphs" stroke="#222" stroke-width="0.2">15,9</text>
<line x1="8" y1="442.50" x2="598" y2="442.50" stroke="#666" stroke-width="1" stroke-dasharray="1.1,1.23"/>
<text x="11.50" y="438.70" font-size="10.4" fill="#222" font-weight="normal" font-style="normal" textLength="45.22" lengthAdjust="spacingAndGlyphs" stroke="#222" stroke-width="0.2">MH 400 C</text>
<text x="77.30" y="438.70" font-size="10.4" fill="#222" font-weight="normal" font-style="normal" textLength="16.66" lengthAdjust="spacingAndGlyphs" stroke="#222" stroke-width="0.2">438</text>
<text x="113.70" y="438.70" font-size="10.4" fill="#222" font-weight="normal" font-style="normal" textLength="16.66" lengthAdjust="spacingAndGlyphs" stroke="#222" stroke-width="0.2">177</text>
<text x="151.50" y="438.70" font-size="10.4" fill="#222" font-weight="normal" font-style="normal" textLength="16.66" lengthAdjust="spacingAndGlyphs" stroke="#222" stroke-width="0.2">210</text>
<text x="188.70" y="438.70" font-size="10.4" fill="#222" font-weight="normal" font-style="normal" textLength="16.66" lengthAdjust="spacingAndGlyphs" stroke="#222" stroke-width="0.2">142</text>
<text x="226.20" y="438.70" font-size="10.4" fill="#222" font-weight="normal" font-style="normal" textLength="16.66" lengthAdjust="spacingAndGlyphs" stroke="#222" stroke-width="0.2">187</text>
<text x="263.20" y="438.70" font-size="10.4" fill="#222" font-weight="normal" font-style="normal" textLength="11.10" lengthAdjust="spacingAndGlyphs" stroke="#222" stroke-width="0.2">19</text>
<text x="301.30" y="438.70" font-size="10.4" fill="#222" font-weight="normal" font-style="normal" textLength="16.66" lengthAdjust="spacingAndGlyphs" stroke="#222" stroke-width="0.2">200</text>
<text x="338.00" y="438.70" font-size="10.4" fill="#222" font-weight="normal" font-style="normal" textLength="13.88" lengthAdjust="spacingAndGlyphs" stroke="#222" stroke-width="0.2">1¼</text>
<text x="375.70" y="438.70" font-size="10.4" fill="#222" font-weight="normal" font-style="normal" textLength="13.88" lengthAdjust="spacingAndGlyphs" stroke="#222" stroke-width="0.2">1¼</text>
<text x="415.80" y="438.70" font-size="10.4" fill="#222" font-weight="normal" font-style="normal" textLength="16.66" lengthAdjust="spacingAndGlyphs" stroke="#222" stroke-width="0.2">480</text>
<text x="457.50" y="438.70" font-size="10.4" fill="#222" font-weight="normal" font-style="normal" textLength="16.66" lengthAdjust="spacingAndGlyphs" stroke="#222" stroke-width="0.2">220</text>
<text x="499.50" y="438.70" font-size="10.4" fill="#222" font-weight="normal" font-style="normal" textLength="16.66" lengthAdjust="spacingAndGlyphs" stroke="#222" stroke-width="0.2">245</text>
<text x="559.92" y="438.70" font-size="10.4" fill="#222" font-weight="normal" font-style="normal" textLength="19.43" lengthAdjust="spacingAndGlyphs" stroke="#222" stroke-width="0.2">17,1</text>
<line x1="8" y1="459.74" x2="598" y2="459.74" stroke="#666" stroke-width="1" stroke-dasharray="1.1,1.23"/>
<text x="11.50" y="455.92" font-size="10.4" fill="#222" font-weight="normal" font-style="normal" textLength="45.22" lengthAdjust="spacingAndGlyphs" stroke="#222" stroke-width="0.2">MH 500 C</text>
<text x="77.30" y="455.92" font-size="10.4" fill="#222" font-weight="normal" font-style="normal" textLength="16.66" lengthAdjust="spacingAndGlyphs" stroke="#222" stroke-width="0.2">463</text>
<text x="113.70" y="455.92" font-size="10.4" fill="#222" font-weight="normal" font-style="normal" textLength="16.66" lengthAdjust="spacingAndGlyphs" stroke="#222" stroke-width="0.2">177</text>
<text x="151.50" y="455.92" font-size="10.4" fill="#222" font-weight="normal" font-style="normal" textLength="16.66" lengthAdjust="spacingAndGlyphs" stroke="#222" stroke-width="0.2">210</text>
<text x="188.70" y="455.92" font-size="10.4" fill="#222" font-weight="normal" font-style="normal" textLength="16.66" lengthAdjust="spacingAndGlyphs" stroke="#222" stroke-width="0.2">142</text>
<text x="226.20" y="455.92" font-size="10.4" fill="#222" font-weight="normal" font-style="normal" textLength="16.66" lengthAdjust="spacingAndGlyphs" stroke="#222" stroke-width="0.2">187</text>
<text x="263.20" y="455.92" font-size="10.4" fill="#222" font-weight="normal" font-style="normal" textLength="11.10" lengthAdjust="spacingAndGlyphs" stroke="#222" stroke-width="0.2">19</text>
<text x="301.30" y="455.92" font-size="10.4" fill="#222" font-weight="normal" font-style="normal" textLength="16.66" lengthAdjust="spacingAndGlyphs" stroke="#222" stroke-width="0.2">225</text>
<text x="338.00" y="455.92" font-size="10.4" fill="#222" font-weight="normal" font-style="normal" textLength="13.88" lengthAdjust="spacingAndGlyphs" stroke="#222" stroke-width="0.2">1¼</text>
<text x="375.70" y="455.92" font-size="10.4" fill="#222" font-weight="normal" font-style="normal" textLength="13.88" lengthAdjust="spacingAndGlyphs" stroke="#222" stroke-width="0.2">1¼</text>
<text x="415.60" y="455.92" font-size="10.4" fill="#222" font-weight="normal" font-style="normal" textLength="16.66" lengthAdjust="spacingAndGlyphs" stroke="#222" stroke-width="0.2">500</text>
<text x="457.50" y="455.92" font-size="10.4" fill="#222" font-weight="normal" font-style="normal" textLength="16.66" lengthAdjust="spacingAndGlyphs" stroke="#222" stroke-width="0.2">220</text>
<text x="499.50" y="455.92" font-size="10.4" fill="#222" font-weight="normal" font-style="normal" textLength="16.66" lengthAdjust="spacingAndGlyphs" stroke="#222" stroke-width="0.2">245</text>
<text x="559.82" y="455.92" font-size="10.4" fill="#222" font-weight="normal" font-style="normal" textLength="19.43" lengthAdjust="spacingAndGlyphs" stroke="#222" stroke-width="0.2">18,4</text>
<line x1="8" y1="476.98" x2="598" y2="476.98" stroke="#666" stroke-width="1" stroke-dasharray="1.1,1.23"/>
<text x="11.50" y="473.14" font-size="10.4" fill="#222" font-weight="normal" font-style="normal" textLength="45.22" lengthAdjust="spacingAndGlyphs" stroke="#222" stroke-width="0.2">MH 600 C</text>
<text x="77.30" y="473.14" font-size="10.4" fill="#222" font-weight="normal" font-style="normal" textLength="16.66" lengthAdjust="spacingAndGlyphs" stroke="#222" stroke-width="0.2">486</text>
<text x="113.70" y="473.14" font-size="10.4" fill="#222" font-weight="normal" font-style="normal" textLength="16.66" lengthAdjust="spacingAndGlyphs" stroke="#222" stroke-width="0.2">177</text>
<text x="151.50" y="473.14" font-size="10.4" fill="#222" font-weight="normal" font-style="normal" textLength="16.66" lengthAdjust="spacingAndGlyphs" stroke="#222" stroke-width="0.2">210</text>
<text x="188.70" y="473.14" font-size="10.4" fill="#222" font-weight="normal" font-style="normal" textLength="16.66" lengthAdjust="spacingAndGlyphs" stroke="#222" stroke-width="0.2">145</text>
<text x="226.20" y="473.14" font-size="10.4" fill="#222" font-weight="normal" font-style="normal" textLength="16.66" lengthAdjust="spacingAndGlyphs" stroke="#222" stroke-width="0.2">187</text>
<text x="263.20" y="473.14" font-size="10.4" fill="#222" font-weight="normal" font-style="normal" textLength="11.10" lengthAdjust="spacingAndGlyphs" stroke="#222" stroke-width="0.2">19</text>
<text x="301.30" y="473.14" font-size="10.4" fill="#222" font-weight="normal" font-style="normal" textLength="16.66" lengthAdjust="spacingAndGlyphs" stroke="#222" stroke-width="0.2">248</text>
<text x="338.00" y="473.14" font-size="10.4" fill="#222" font-weight="normal" font-style="normal" textLength="5.55" lengthAdjust="spacingAndGlyphs" stroke="#222" stroke-width="0.2">1</text>
<text x="375.70" y="473.14" font-size="10.4" fill="#222" font-weight="normal" font-style="normal" textLength="5.55" lengthAdjust="spacingAndGlyphs" stroke="#222" stroke-width="0.2">1</text>
<text x="415.60" y="473.14" font-size="10.4" fill="#222" font-weight="normal" font-style="normal" textLength="16.66" lengthAdjust="spacingAndGlyphs" stroke="#222" stroke-width="0.2">510</text>
<text x="457.50" y="473.14" font-size="10.4" fill="#222" font-weight="normal" font-style="normal" textLength="16.66" lengthAdjust="spacingAndGlyphs" stroke="#222" stroke-width="0.2">220</text>
<text x="499.50" y="473.14" font-size="10.4" fill="#222" font-weight="normal" font-style="normal" textLength="16.66" lengthAdjust="spacingAndGlyphs" stroke="#222" stroke-width="0.2">245</text>
<text x="559.92" y="473.14" font-size="10.4" fill="#222" font-weight="normal" font-style="normal" textLength="19.43" lengthAdjust="spacingAndGlyphs" stroke="#222" stroke-width="0.2">17,6</text>
<line x1="8" y1="494.22" x2="598" y2="494.22" stroke="#666" stroke-width="1" stroke-dasharray="1.1,1.23"/>
<text x="11.50" y="490.36" font-size="10.4" fill="#222" font-weight="normal" font-style="normal" textLength="45.22" lengthAdjust="spacingAndGlyphs" stroke="#222" stroke-width="0.2">MH 800 C</text>
<text x="77.10" y="490.36" font-size="10.4" fill="#222" font-weight="normal" font-style="normal" textLength="16.66" lengthAdjust="spacingAndGlyphs" stroke="#222" stroke-width="0.2">535</text>
<text x="113.70" y="490.36" font-size="10.4" fill="#222" font-weight="normal" font-style="normal" textLength="16.66" lengthAdjust="spacingAndGlyphs" stroke="#222" stroke-width="0.2">177</text>
<text x="151.50" y="490.36" font-size="10.4" fill="#222" font-weight="normal" font-style="normal" textLength="16.66" lengthAdjust="spacingAndGlyphs" stroke="#222" stroke-width="0.2">210</text>
<text x="188.70" y="490.36" font-size="10.4" fill="#222" font-weight="normal" font-style="normal" textLength="16.66" lengthAdjust="spacingAndGlyphs" stroke="#222" stroke-width="0.2">145</text>
<text x="226.20" y="490.36" font-size="10.4" fill="#222" font-weight="normal" font-style="normal" textLength="16.66" lengthAdjust="spacingAndGlyphs" stroke="#222" stroke-width="0.2">187</text>
<text x="263.20" y="490.36" font-size="10.4" fill="#222" font-weight="normal" font-style="normal" textLength="11.10" lengthAdjust="spacingAndGlyphs" stroke="#222" stroke-width="0.2">19</text>
<text x="301.30" y="490.36" font-size="10.4" fill="#222" font-weight="normal" font-style="normal" textLength="16.66" lengthAdjust="spacingAndGlyphs" stroke="#222" stroke-width="0.2">297</text>
<text x="338.00" y="490.36" font-size="10.4" fill="#222" font-weight="normal" font-style="normal" textLength="5.55" lengthAdjust="spacingAndGlyphs" stroke="#222" stroke-width="0.2">1</text>
<text x="375.70" y="490.36" font-size="10.4" fill="#222" font-weight="normal" font-style="normal" textLength="5.55" lengthAdjust="spacingAndGlyphs" stroke="#222" stroke-width="0.2">1</text>
<text x="415.60" y="490.36" font-size="10.4" fill="#222" font-weight="normal" font-style="normal" textLength="16.66" lengthAdjust="spacingAndGlyphs" stroke="#222" stroke-width="0.2">575</text>
<text x="457.50" y="490.36" font-size="10.4" fill="#222" font-weight="normal" font-style="normal" textLength="16.66" lengthAdjust="spacingAndGlyphs" stroke="#222" stroke-width="0.2">220</text>
<text x="499.50" y="490.36" font-size="10.4" fill="#222" font-weight="normal" font-style="normal" textLength="16.66" lengthAdjust="spacingAndGlyphs" stroke="#222" stroke-width="0.2">245</text>
<text x="559.92" y="490.36" font-size="10.4" fill="#222" font-weight="normal" font-style="normal" textLength="19.43" lengthAdjust="spacingAndGlyphs" stroke="#222" stroke-width="0.2">19,3</text>
<line x1="8" y1="511.46" x2="598" y2="511.46" stroke="#666" stroke-width="1" stroke-dasharray="1.1,1.23"/>
<text x="11.50" y="507.58" font-size="10.4" fill="#222" font-weight="normal" font-style="normal" textLength="50.47" lengthAdjust="spacingAndGlyphs" stroke="#222" stroke-width="0.2">MH 1000 C</text>
<text x="77.10" y="507.58" font-size="10.4" fill="#222" font-weight="normal" font-style="normal" textLength="16.66" lengthAdjust="spacingAndGlyphs" stroke="#222" stroke-width="0.2">595</text>
<text x="113.70" y="507.58" font-size="10.4" fill="#222" font-weight="normal" font-style="normal" textLength="16.66" lengthAdjust="spacingAndGlyphs" stroke="#222" stroke-width="0.2">177</text>
<text x="151.50" y="507.58" font-size="10.4" fill="#222" font-weight="normal" font-style="normal" textLength="16.66" lengthAdjust="spacingAndGlyphs" stroke="#222" stroke-width="0.2">210</text>
<text x="188.70" y="507.58" font-size="10.4" fill="#222" font-weight="normal" font-style="normal" textLength="16.66" lengthAdjust="spacingAndGlyphs" stroke="#222" stroke-width="0.2">145</text>
<text x="226.20" y="507.58" font-size="10.4" fill="#222" font-weight="normal" font-style="normal" textLength="16.66" lengthAdjust="spacingAndGlyphs" stroke="#222" stroke-width="0.2">187</text>
<text x="263.20" y="507.58" font-size="10.4" fill="#222" font-weight="normal" font-style="normal" textLength="11.10" lengthAdjust="spacingAndGlyphs" stroke="#222" stroke-width="0.2">19</text>
<text x="301.40" y="507.58" font-size="10.4" fill="#222" font-weight="normal" font-style="normal" textLength="16.66" lengthAdjust="spacingAndGlyphs" stroke="#222" stroke-width="0.2">346</text>
<text x="338.00" y="507.58" font-size="10.4" fill="#222" font-weight="normal" font-style="normal" textLength="5.55" lengthAdjust="spacingAndGlyphs" stroke="#222" stroke-width="0.2">1</text>
<text x="375.70" y="507.58" font-size="10.4" fill="#222" font-weight="normal" font-style="normal" textLength="5.55" lengthAdjust="spacingAndGlyphs" stroke="#222" stroke-width="0.2">1</text>
<text x="415.50" y="507.58" font-size="10.4" fill="#222" font-weight="normal" font-style="normal" textLength="16.66" lengthAdjust="spacingAndGlyphs" stroke="#222" stroke-width="0.2">630</text>
<text x="457.50" y="507.58" font-size="10.4" fill="#222" font-weight="normal" font-style="normal" textLength="16.66" lengthAdjust="spacingAndGlyphs" stroke="#222" stroke-width="0.2">220</text>
<text x="499.50" y="507.58" font-size="10.4" fill="#222" font-weight="normal" font-style="normal" textLength="16.66" lengthAdjust="spacingAndGlyphs" stroke="#222" stroke-width="0.2">245</text>
<text x="560.07" y="507.58" font-size="10.4" fill="#222" font-weight="normal" font-style="normal" textLength="19.43" lengthAdjust="spacingAndGlyphs" stroke="#222" stroke-width="0.2">21,7</text>
</svg></body></html>
